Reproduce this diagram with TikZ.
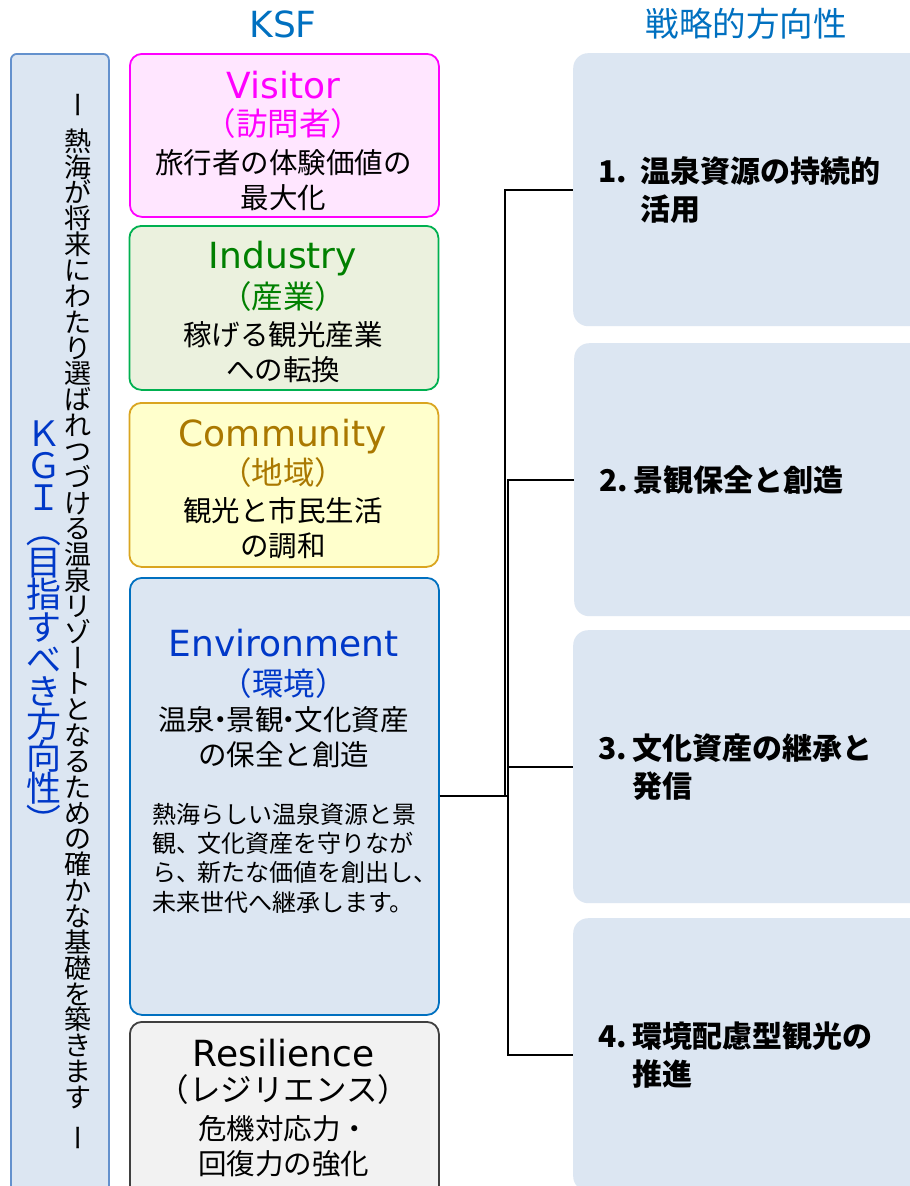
\documentclass[tikz,border=0pt]{standalone}
\usepackage{fontspec}
\setmainfont{Noto Sans CJK JP}
\newfontfamily\lat{DejaVu Sans}
\usetikzlibrary{calc}
\definecolor{hdrblue}{RGB}{0,112,192}
\definecolor{kgiblue}{RGB}{0,56,200}
\definecolor{kgiborder}{RGB}{100,145,205}
\definecolor{lightblue}{RGB}{220,230,242}
\definecolor{visfill}{RGB}{255,230,255}
\definecolor{visline}{RGB}{255,0,255}
\definecolor{indfill}{RGB}{235,241,222}
\definecolor{indline}{RGB}{0,176,80}
\definecolor{indtext}{RGB}{0,128,0}
\definecolor{comfill}{RGB}{255,255,204}
\definecolor{comline}{RGB}{218,165,32}
\definecolor{comtext}{RGB}{170,120,0}
\definecolor{envline}{RGB}{0,112,192}
\definecolor{resfill}{RGB}{242,242,242}
\definecolor{resline}{RGB}{64,64,64}
\begin{document}
\begin{tikzpicture}[x=1pt,y=-1pt,
  lbox/.style={rounded corners=12pt, line width=1.8pt, minimum width=309pt, anchor=north west, inner sep=0pt},
  rbox/.style={fill=lightblue, rounded corners=15pt, minimum width=360pt, minimum height=273pt,
     text width=310pt, align=left, inner xsep=25pt, anchor=north west,
     font=\bfseries\fontsize{30}{38}\selectfont},
  ttl/.style={font=\lat\fontsize{36}{40}\selectfont, inner sep=0pt, anchor=base},
  parl/.style={font=\fontsize{31.5}{34}\selectfont, inner sep=0pt},
  bodyl/.style={font=\fontsize{28.5}{35}\selectfont, align=center, inner sep=0pt},
  vch/.style={font=\fontsize{27}{27}\selectfont, inner sep=0pt, text height=23.8pt, text depth=3.2pt},
  bch/.style={font=\fontsize{35}{35}\selectfont, inner sep=0pt, text height=30.8pt, text depth=4.2pt, text=kgiblue},
  conn/.style={draw=black, line width=2pt}
]
\useasboundingbox (0,0) rectangle (910,1186);
\fill[white] (0,0) rectangle (910,1186);

% headers
\node[font=\lat\fontsize{36}{40}\selectfont, text=hdrblue, inner sep=0pt, anchor=base] (ksf) at (283,37) {KSF};
\node[font=\fontsize{33.5}{36}\selectfont, text=hdrblue, inner sep=0pt] (senryaku) at (746,24) {戦略的方向性};

% KGI column
\node[draw=kgiborder, fill=lightblue, line width=1.8pt, rounded corners=6pt, minimum width=98pt, minimum height=1160pt, anchor=north west] (kgi) at (10,53) {};
\node[vch, rotate=90] (vtop) at (78,105) {ー};
\foreach \c/\r [count=\i from 0] in {熱/0,海/0,が/0,将/0,来/0,に/0,わ/0,た/0,り/0,選/0,ば/0,れ/0,つ/0,づ/0,け/0,る/0,温/0,泉/0,リ/0,ゾ/0,ー/90,ト/0,と/0,な/0,る/0,た/0,め/0,の/0,確/0,か/0,な/0,基/0,礎/0,を/0,築/0,き/0,ま/0,す/0}
  {\node[vch, rotate=\r] (m\i) at (78,{141+\i*25.84}) {\c};}
\node[vch, rotate=90] (vbot) at (78,1138) {ー};
\foreach \c/\r [count=\i from 0] in {Ｋ/0,Ｇ/0,Ｉ/0,（/-90,目/0,指/0,す/0,べ/0,き/0,方/0,向/0,性/0,）/-90}
  {\node[bch, rotate=\r] (k\i) at (44,{433+\i*32.3}) {\c};}

% KSF boxes
\node[lbox, draw=visline, fill=visfill, minimum height=163pt] (vis) at (129,53) {};
\node[ttl, text=visline] (vis-t) at (283.5,98) {Visitor};
\node[parl, text=visline] (vis-p) at (283.5,124) {（訪問者）};
\node[bodyl] (vis-b) at (283.5,180) {旅行者の体験価値の\\最大化};

\node[lbox, draw=indline, fill=indfill, minimum height=164pt] (ind) at (128.5,225) {};
\node[ttl, text=indtext] (ind-t) at (283,268) {Industry};
\node[parl, text=indtext] (ind-p) at (283,297) {（産業）};
\node[bodyl] (ind-b) at (283,352.5) {稼げる観光産業\\への転換};

\node[lbox, draw=comline, fill=comfill, minimum height=164pt] (com) at (128.5,402) {};
\node[ttl, text=comtext] (com-t) at (283,446) {Community};
\node[parl, text=comtext] (com-p) at (283,473) {（地域）};
\node[bodyl] (com-b) at (283,528.5) {観光と市民生活\\の調和};

\node[lbox, draw=envline, fill=lightblue, minimum height=437pt] (env) at (129,577) {};
\node[ttl, text=kgiblue] (env-t) at (283.5,656) {Environment};
\node[parl, text=kgiblue] (env-p) at (283.5,684) {（環境）};
\node[bodyl] (env-b) at (283.5,737.5) {温泉{\hspace{-0.3em}・\hspace{-0.3em}}景観{\hspace{-0.3em}・\hspace{-0.3em}}文化資産\\の保全と創造};
\node[font=\fontsize{24}{29.3}\selectfont, align=left, inner sep=0pt, anchor=west] (env-d) at (152,858)
  {熱海らしい温泉資源と景\\観、\hspace{-3pt}文化資産を守りなが\\ら、\hspace{-3pt}新たな価値を創出し、\\未来世代へ継承します。};

\node[lbox, draw=resline, fill=resfill, minimum height=180pt] (res) at (129,1021) {};
\node[ttl, text=black] (res-t) at (283.5,1066) {Resilience};
\node[parl] (res-p) at (283.5,1090) {（レジリエンス）};
\node[bodyl] (res-b) at (283.5,1146.5) {危機対応力・\\回復力の強化};

% strategic direction boxes
\node[rbox] (s1) at (573,53) {\makebox[42pt][l]{1.}温泉資源の持続的\\\hspace*{42pt}活用};
\node[rbox] (s2) at (574,343) {\makebox[34pt][l]{2.}景観保全と創造};
\node[rbox] (s3) at (573,630) {\makebox[34pt][l]{3.}文化資産の継承と\\\hspace*{34pt}発信};
\node[rbox] (s4) at (573,918) {\makebox[34pt][l]{4.}環境配慮型観光の\\\hspace*{34pt}推進};

% connectors
\coordinate (jA) at (505,0);
\coordinate (jB) at (508,0);
\draw[conn] (env.east) -- (env.east -| jA) |- (s1.west);
\draw[conn] (env.east) -- (env.east -| jB) |- (s2.west);
\draw[conn] (env.east) -- (env.east -| jB) |- (s3.west);
\draw[conn] (env.east) -- (env.east -| jB) |- (s4.west);
\end{tikzpicture}
\end{document}
